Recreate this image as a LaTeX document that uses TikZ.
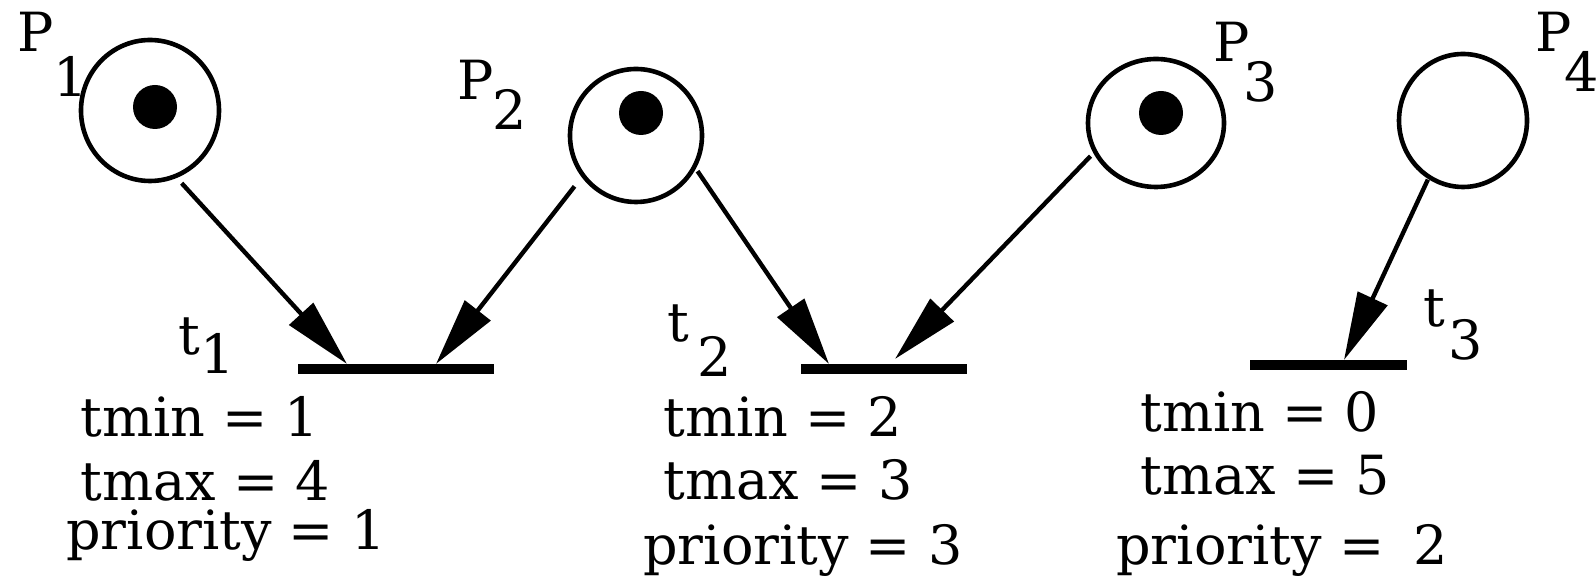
\documentclass[tikz,border=0pt]{standalone}
\usepackage{fontspec}
\setmainfont{DejaVu Serif}
\usetikzlibrary{arrows.meta,shapes.geometric}
\newcommand{\psub}[4]{\makebox[0pt][l]{#1}\hspace{#2}\raisebox{-#3}{#4}}
\begin{document}
\begin{tikzpicture}[x=0.5pt,y=-0.5pt,
  place/.style={ellipse, draw, line width=2.3pt, inner sep=0pt, outer sep=0pt},
  token/.style={circle, fill, inner sep=0pt, minimum size=22pt},
  bar/.style={rectangle, fill, inner sep=0pt, outer sep=0pt, minimum height=5pt},
  arc/.style={line width=2.2pt, -{Triangle[length=34pt,width=16pt]}},
  lbl/.style={anchor=base west, inner sep=0pt, font=\fontsize{27}{32}\selectfont},
  txt/.style={anchor=base west, inner sep=0pt, font=\fontsize{27}{32}\selectfont}]
\useasboundingbox (0,0) rectangle (1596,581);

% places
\node[place, minimum width=69pt, minimum height=70.5pt] (p1) at (150,110.5) {};
\node[place, minimum width=66pt, minimum height=66.5pt] (p2) at (636,135.5) {};
\node[place, minimum width=68pt, minimum height=64pt] (p3) at (1156,123) {};
\node[place, minimum width=64pt, minimum height=66.5pt] (p4) at (1463,120.5) {};

% tokens
\node[token] (k1) at (155,107) {};
\node[token] (k2) at (641,113) {};
\node[token] (k3) at (1161,113) {};

% place labels
\node[lbl] (lp1) at (17,52) {\psub{P}{18pt}{22.5pt}{1}};
\node[lbl] (lp2) at (457,100) {\psub{P}{17.5pt}{15pt}{2}};
\node[lbl] (lp3) at (1213,62) {\psub{P}{15pt}{20pt}{3}};
\node[lbl] (lp4) at (1535,52) {\psub{P}{14.5pt}{20pt}{4}};

% transitions
\node[bar, minimum width=98pt] (t1) at (396,369) {};
\node[bar, minimum width=83pt] (t2) at (884,369) {};
\node[bar, minimum width=78.5pt] (t3) at (1328.5,365) {};

% transition labels
\node[lbl] (lt1) at (178,355) {\psub{t}{11pt}{9.5pt}{1}};
\node[lbl] (lt2) at (667,342) {\psub{t}{15pt}{17.5pt}{2}};
\node[lbl] (lt3) at (1423,327) {\psub{t}{12.5pt}{16.5pt}{3}};

% arcs
\draw[arc, shorten <=4.8pt] (p1.-69) -- ([xshift=-24.5pt]t1.north);
\draw[arc, shorten <=7pt] (p2.-143) -- ([xshift=20pt]t1.north);
\draw[arc, shorten <=2.8pt] (p2.-28) -- ([xshift=-27.5pt]t2.north);
\draw[arc, shorten <=3.3pt] (p3.-155) -- ([xshift=5.5pt,yshift=2.5pt]t2.north);
\draw[arc, shorten <=1.5pt] (p4.-121) -- ([xshift=7.75pt]t3.north);

% attributes
\node[txt] (a1) at (80,437) {tmin = 1};
\node[txt] (b1) at (80,501) {tmax = 4};
\node[txt] (c1) at (66,550) {priority = 1};
\node[txt] (a2) at (663,437) {tmin = 2};
\node[txt] (b2) at (663,500) {tmax = 3};
\node[txt] (c2) at (643,565) {priority = 3};
\node[txt] (a3) at (1140,432) {tmin = 0};
\node[txt] (b3) at (1140,495) {tmax = 5};
\node[txt] (c3) at (1116,565) {priority = \hspace{6pt}2};
\end{tikzpicture}
\end{document}
